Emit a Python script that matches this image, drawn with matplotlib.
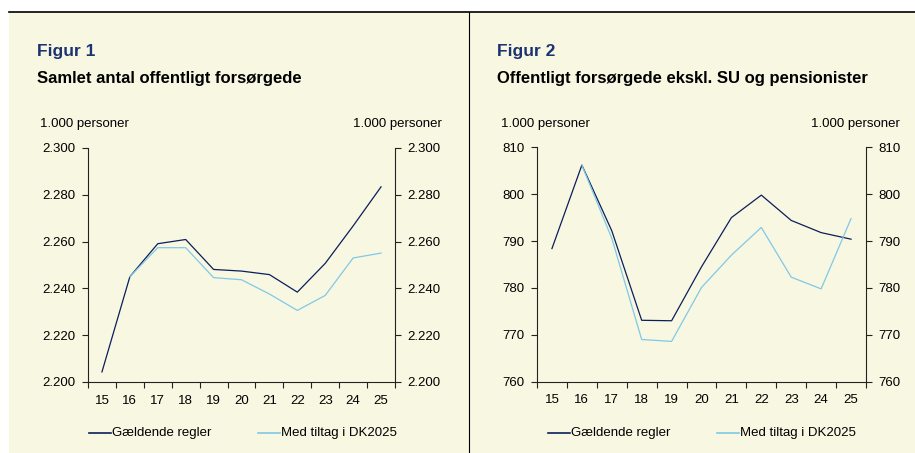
import matplotlib
matplotlib.use('Agg')
import matplotlib.pyplot as plt
from matplotlib.lines import Line2D
from matplotlib.patches import Rectangle
import numpy as np

plt.rcParams['font.family'] = ['Liberation Sans', 'DejaVu Sans']

years = ['15', '16', '17', '18', '19', '20', '21', '22', '23', '24', '25']

# Figur 1: samlet antal offentligt forsørgede (1.000 personer)
fig1_current = [2204.3, 2245.0, 2259.1, 2260.9, 2248.1, 2247.4, 2245.9,
                2238.4, 2250.7, 2266.7, 2283.4]
fig1_dk2025 = [np.nan, 2245.0, 2257.4, 2257.4, 2244.6, 2243.7, 2237.6,
               2230.6, 2237.0, 2253.0, 2255.1]
fig1_ticks = [2200, 2220, 2240, 2260, 2280, 2300]

# Figur 2: offentligt forsørgede ekskl. SU og pensionister (1.000 personer)
fig2_current = [788.4, 806.2, 792.2, 773.1, 773.0, 784.5, 795.0, 799.8,
                794.4, 791.8, 790.4]
fig2_dk2025 = [np.nan, 806.2, 790.6, 769.0, 768.6, 780.1, 787.0, 792.9,
               782.3, 779.8, 794.8]
fig2_ticks = [760, 770, 780, 790, 800, 810]

BG = '#F8F7E2'
NAVY = '#0B1E5B'
LIGHT = '#7FC9E6'
TITLE = '#1B3370'
W, H = 915, 453


def fx(px):
    return px / W


def fy(py):
    return 1 - py / H


def thousands(v):
    s = '{:,.0f}'.format(v)
    return s.replace(',', '.')


def draw_panel(fig, rect, current, dk2025, ticks):
    ax = fig.add_axes(rect)
    ax.set_facecolor('none')
    x = np.arange(len(years))
    ax.plot(x, current, color=NAVY, lw=0.9, zorder=3)
    ax.plot(x, dk2025, color=LIGHT, lw=0.9, zorder=4)
    ax.set_xlim(-0.5, len(years) - 0.5)
    ax.set_ylim(ticks[0], ticks[-1])
    ax.set_xticks(x)
    ax.set_xticklabels(years, fontsize=9.5)
    ax.set_xticks(np.arange(-0.5, len(years)), minor=True)
    ax.tick_params(axis='x', which='major', length=0, pad=9)
    ax.tick_params(axis='x', which='minor', length=4, direction='out',
                   width=0.8, color='#222222')
    ax.set_yticks(ticks)
    ax.set_yticklabels([thousands(t) for t in ticks])
    ax.tick_params(axis='y', left=True, right=True, labelleft=True,
                   labelright=True, length=4, width=0.8, direction='out',
                   labelsize=9.5, pad=5, color='#222222')
    ax.spines['top'].set_visible(False)
    for s in ['left', 'right', 'bottom']:
        ax.spines[s].set_linewidth(0.8)
        ax.spines[s].set_color('#222222')
    return ax


fig = plt.figure(figsize=(9.15, 4.53), dpi=100)
fig.patch.set_facecolor('white')

# background and frame lines
fig.add_artist(Rectangle((fx(9), 0), 1 - fx(9), fy(12), transform=fig.transFigure,
                         facecolor=BG, edgecolor='none', zorder=0))
fig.add_artist(Line2D([fx(9), 1], [fy(12), fy(12)], transform=fig.transFigure,
                      color='black', lw=1.2))
fig.add_artist(Line2D([fx(469.5), fx(469.5)], [0, fy(12)], transform=fig.transFigure,
                      color='black', lw=0.8))

draw_panel(fig, [fx(88), fy(382), fx(395 - 88), (382 - 148) / H],
           fig1_current, fig1_dk2025, fig1_ticks)
draw_panel(fig, [fx(537), fy(381.7), fx(866 - 537), (381.7 - 147.3) / H],
           fig2_current, fig2_dk2025, fig2_ticks)

panels = [
    (37, 'Figur 1', 'Samlet antal offentligt forsørgede', 40, 441.7, 89, 258),
    (497, 'Figur 2', 'Offentligt forsørgede ekskl. SU og pensionister', 500.7,
     900, 548, 717),
]
for x0, head, sub, lab_l, lab_r, leg1, leg2 in panels:
    fig.text(fx(x0), fy(56), head, color=TITLE, fontsize=12.5,
             fontweight='bold', va='baseline')
    fig.text(fx(x0), fy(83), sub, color='black', fontsize=12,
             fontweight='bold', va='baseline')
    fig.text(fx(lab_l), fy(127), '1.000 personer', fontsize=9.5, va='baseline')
    fig.text(fx(lab_r), fy(127), '1.000 personer', fontsize=9.5,
             va='baseline', ha='right')
    for lx, col, txt in [(leg1, NAVY, 'Gældende regler'),
                         (leg2, LIGHT, 'Med tiltag i DK2025')]:
        fig.add_artist(Line2D([fx(lx), fx(lx + 22)], [fy(433), fy(433)],
                              transform=fig.transFigure, color=col, lw=1.2))
        fig.text(fx(lx + 23), fy(433), txt, fontsize=9.5, va='center')

plt.savefig('out.png', dpi=100, facecolor=fig.get_facecolor())
